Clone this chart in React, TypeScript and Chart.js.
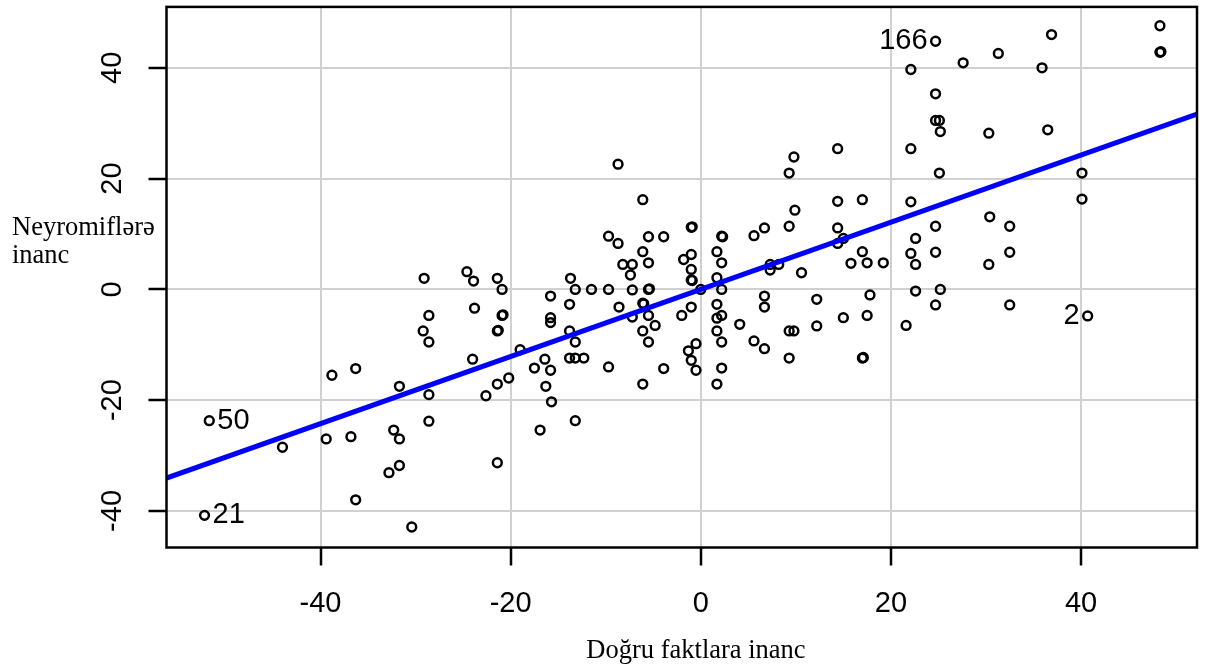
import React, { useEffect, useRef } from 'react';
import { Chart, registerables } from 'chart.js';

Chart.register(...registerables);

// Labeled observations first: 166, 50, 21, 2
const X_VALUES = [
  24.7, -51.7, -52.2, 40.7,
  // left / lower-left cloud
  -29.1, -24.6, -23.9, -21.4, -20.9, -28.6, -23.8, -20.9, -20.8, -29.2, -28.6, -21.4, -21.3, -19.0,
  -38.8, -36.3, -31.7, -28.6, -24.0, -20.2, -21.4, -22.6, -44.0, -39.4, -36.8, -32.3, -31.7, -28.6,
  -31.7, -32.8, -21.4, -36.3, -30.4,
  // middle cloud
  -8.7, 9.8, 9.3, 14.4, -6.1, 9.9, 14.4, 17.0, -1.0, -0.9, -9.7, -8.7, -5.5, -3.9, 2.2, 2.3, 5.6, 6.7,
  9.3, 14.4, 15.0, 14.4, -6.1, -1.0, 1.7, 17.0, -1.8, -8.2, -7.2, -5.5, 2.2, -7.4, -1.0, -1.0, -0.9,
  1.7, 7.3, 8.2, 7.3, 10.6, 15.8, 17.5, -13.7, -13.2, -11.5, -9.7, -7.2, -5.5, -5.4, 0.0, 2.2, -15.8,
  -13.8, -8.6, -6.1, -6.0, -1.0, 1.7, 6.7, 6.7, 12.2, 17.8, -15.8, -15.8, -7.2, -5.5, -2.0, 1.7, 2.2,
  -4.8, 4.1, 15.0, 17.5, -13.8, -6.1, 1.7, 9.3, 9.8, 12.2, -13.2, -5.5, -0.5, 2.2, 5.6, 6.7, -1.3,
  -16.4, -13.8, -13.2, -12.3, -1.0, 9.3, 17.0, 17.1, -17.5, -15.8, -9.7, -3.9, -0.5, 2.2, -16.3, -6.1,
  1.7, -15.7, -13.2, -16.9,
  // upper-right cloud
  22.1, 27.6, 31.3, 36.9, 35.9, 48.3, 48.3, 48.4, 24.7, 24.7, 25.1, 25.2, 30.3, 36.5, 22.1, 25.1, 40.1,
  40.1, 22.1, 24.7, 30.4, 32.5, 22.6, 19.2, 22.1, 22.6, 24.7, 30.3, 32.5, 22.6, 25.2, 24.7, 32.5, 21.6,
];

const Y_VALUES = [
  44.8, -23.7, -40.8, -4.8,
  // left / lower-left cloud
  2.0, 3.2, 1.5, 2.0, 0.0, -4.7, -3.4, -4.7, -4.6, -7.5, -9.5, -7.5, -7.4, -10.9,
  -15.5, -14.3, -17.5, -19.0, -12.6, -16.0, -17.1, -19.2, -28.5, -27.0, -26.6, -25.4, -27.0, -23.8,
  -31.8, -33.1, -31.3, -38.0, -42.9,
  // middle cloud
  22.6, 23.9, 21.0, 25.4, 16.2, 14.3, 15.9, 16.2, 11.2, 11.3, 9.6, 8.3, 9.5, 9.5, 9.6, 9.5, 9.7, 11.1,
  11.4, 11.1, 9.2, 8.3, 6.8, 6.3, 6.8, 6.8, 5.4, 4.5, 4.5, 4.8, 4.8, 2.6, 3.6, 1.7, 1.6,
  2.1, 4.5, 4.5, 3.5, 3.0, 4.7, 4.8, 2.0, 0.0, 0.0, 0.0, -0.1, 0.0, 0.1, 0.0, 0.0, -1.2,
  -2.7, -3.2, -2.5, -2.6, -3.2, -2.7, -1.2, -3.2, -1.8, -1.0, -5.1, -6.0, -5.0, -4.7, -4.7, -5.2, -4.7,
  -6.5, -6.3, -5.1, -4.7, -7.5, -7.5, -7.5, -7.5, -7.5, -6.6, -9.5, -9.5, -9.8, -9.5, -9.3, -10.7, -11.1,
  -12.6, -12.4, -12.4, -12.4, -12.8, -12.4, -12.4, -12.3, -14.2, -14.6, -14.0, -14.3, -14.6, -14.2, -17.5, -17.1,
  -17.1, -20.3, -23.7, -25.4,
  // upper-right cloud
  39.7, 40.9, 42.6, 46.0, 40.0, 47.6, 42.8, 42.9, 35.3, 30.5, 30.5, 28.5, 28.2, 28.8, 25.4, 21.0, 21.0,
  16.3, 15.8, 11.4, 13.1, 11.4, 9.2, 4.8, 6.5, 4.5, 6.7, 4.5, 6.7, -0.3, 0.0, -2.8, -2.8, -6.5,
];

const LABEL_INDEX = [0, 1, 2, 3];
const LABEL_TEXT = ['166', '50', '21', '2'];
const LABEL_SIDE = ['left', 'right', 'right', 'left'];

const X_TICKS = [-40, -20, 0, 20, 40];
const Y_TICKS = [-40, -20, 0, 20, 40];
const X_RANGE = [-56.2, 52.2];
const Y_RANGE = [-46.6, 51.0];

const REG_SLOPE = 0.606;
const REG_INTERCEPT = 0.0;

const X_TITLE = 'Doğru faktlara inanc';
const Y_TITLE_LINES = ['Neyromiflərə', 'inanc'];

const SANS = '"Liberation Sans", Arial, Helvetica, sans-serif';
const SERIF = '"Liberation Serif", "Times New Roman", "DejaVu Serif", serif';

export default function App() {
  const ref = useRef<HTMLCanvasElement>(null);

  useEffect(() => {
    const canvas = ref.current;
    if (!canvas) return;

    const points = X_VALUES.map((x, i) => ({ x, y: Y_VALUES[i] }));
    const regLine = X_RANGE.map((x) => ({ x, y: REG_INTERCEPT + REG_SLOPE * x }));

    const overlay = {
      id: 'overlay',
      afterDraw(chart: any) {
        const { ctx, chartArea: a, scales } = chart;
        ctx.save();
        ctx.strokeStyle = '#000';
        ctx.lineWidth = 2.5;
        ctx.strokeRect(a.left, a.top, a.right - a.left, a.bottom - a.top);

        ctx.fillStyle = '#000';
        ctx.font = `29px ${SANS}`;
        ctx.textBaseline = 'middle';
        LABEL_INDEX.forEach((idx, k) => {
          const px = scales.x.getPixelForValue(X_VALUES[idx]);
          const py = scales.y.getPixelForValue(Y_VALUES[idx]);
          if (LABEL_SIDE[k] === 'left') {
            ctx.textAlign = 'right';
            ctx.fillText(LABEL_TEXT[k], px - 8, py);
          } else {
            ctx.textAlign = 'left';
            ctx.fillText(LABEL_TEXT[k], px + 8, py);
          }
        });

        ctx.font = `26.5px ${SERIF}`;
        ctx.textBaseline = 'alphabetic';
        ctx.textAlign = 'center';
        ctx.fillText(X_TITLE, 696, 658);
        ctx.textAlign = 'left';
        ctx.fillText(Y_TITLE_LINES[0], 12, 235);
        ctx.fillText(Y_TITLE_LINES[1], 12, 263);
        ctx.restore();
      },
    };

    const chart = new Chart(canvas, {
      type: 'scatter',
      data: {
        datasets: [
          {
            data: regLine,
            showLine: true,
            borderColor: '#0000ff',
            backgroundColor: '#0000ff',
            borderWidth: 5,
            pointRadius: 0,
            pointHoverRadius: 0,
            fill: false,
            order: 0,
          } as any,
          {
            data: points,
            borderColor: '#000',
            backgroundColor: 'rgba(0,0,0,0)',
            borderWidth: 2.5,
            pointRadius: 4.4,
            pointHoverRadius: 4.4,
            order: 1,
          },
        ],
      },
      options: {
        responsive: false,
        animation: false,
        events: [],
        layout: { padding: { left: 0, right: 9, top: 6.5, bottom: 0 } },
        plugins: {
          legend: { display: false },
          tooltip: { enabled: false },
        },
        scales: {
          x: {
            type: 'linear',
            min: X_RANGE[0],
            max: X_RANGE[1],
            afterBuildTicks: (s: any) => {
              s.ticks = X_TICKS.map((v) => ({ value: v }));
            },
            afterFit: (s: any) => {
              s.height = 123.5;
              s.paddingLeft = 0;
              s.paddingRight = 0;
            },
            ticks: {
              color: '#000',
              font: { family: SANS, size: 29 },
              padding: 21,
              maxRotation: 0,
              minRotation: 0,
              autoSkip: false,
              callback: (v: any) => String(v),
            },
            grid: {
              color: '#d0d0d0',
              lineWidth: 2,
              tickColor: '#000',
              tickWidth: 2.5,
              tickLength: 18,
            },
            border: { display: false },
          },
          y: {
            type: 'linear',
            min: Y_RANGE[0],
            max: Y_RANGE[1],
            afterBuildTicks: (s: any) => {
              s.ticks = Y_TICKS.map((v) => ({ value: v }));
            },
            afterFit: (s: any) => {
              s.width = 166.5;
              s.paddingTop = 0;
              s.paddingBottom = 0;
            },
            ticks: {
              color: '#000',
              font: { family: SANS, size: 29 },
              padding: 15,
              minRotation: 90,
              maxRotation: 90,
              crossAlign: 'center',
              autoSkip: false,
              callback: (v: any) => String(v),
            },
            grid: {
              color: '#d0d0d0',
              lineWidth: 2,
              tickColor: '#000',
              tickWidth: 2.5,
              tickLength: 18,
            },
            border: { display: false },
          },
        },
      },
      plugins: [overlay],
    });

    return () => chart.destroy();
  }, []);

  return (
    <div style={{ position: 'fixed', left: 0, top: 0, width: 1206, height: 671, background: '#fff' }}>
      <canvas ref={ref} width={1206} height={671} style={{ display: 'block' }} />
    </div>
  );
}
